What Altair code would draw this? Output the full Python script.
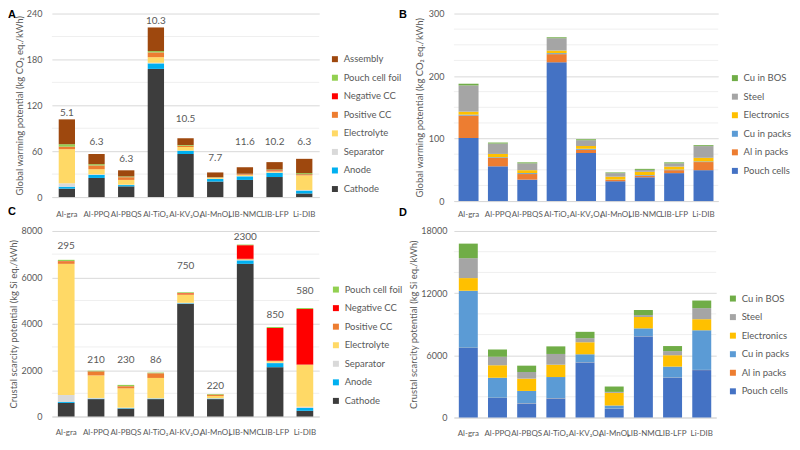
import altair as alt
import pandas as pd

cats = ["Al-gra", "Al-PPQ", "Al-PBQS", "Al-TiO₂", "Al-KV₂O₅", "Al-MnO₂", "LIB-NMC", "LIB-LFP", "Li-DIB"]

# ---- Panel A: cell-level global warming potential (kg CO2 eq./kWh)
gwp_cathode = [11, 25, 14, 167.6, 56.3, 20.3, 22.4, 26.2, 4.7]
gwp_anode = [2.5, 4, 1.7, 7.2, 4.2, 3.4, 4.7, 5.5, 3.8]
gwp_separator = [4.5, 0.8, 0.5, 0.8, 0.5, 0.3, 0.5, 0.5, 0.8]
gwp_electrolyte = [44.6, 6.6, 6.2, 7.3, 4.6, 1.0, 1.6, 1.2, 19.1]
gwp_pos_cc = [3, 4.6, 3.4, 5.9, 1.3, 0.6, 0.4, 1.2, 0.4]
gwp_neg_cc = [0.3, 0.3, 0.2, 0.3, 0.2, 0.2, 0.4, 0.6, 0.8]
gwp_foil = [3.2, 1.7, 1.0, 1.8, 1.0, 0.4, 0.5, 0.8, 1.7]
gwp_assembly = [32.5, 13.3, 8.0, 30.9, 8.9, 6.0, 8.5, 9.7, 18.7]
gwp_labels = ["5.1", "6.3", "6.3", "10.3", "10.5", "7.7", "11.6", "10.2", "6.3"]
gwp_label_at = [110, 71.5, 49.5, 229.8, 101.6, 51.2, 72.4, 72.4, 72.4]

# ---- Panel B: pack-level global warming potential
pk_pouch = [100.9, 55.6, 34.3, 222, 77, 31.7, 38, 44.7, 49.4]
pk_al = [35.9, 13.6, 8.9, 13, 5.2, 2.1, 2.6, 4.7, 13]
pk_cu = [1.5, 1.0, 1.5, 1.6, 1.5, 0.5, 1.0, 1.0, 1.0]
pk_elec = [4.7, 5.2, 4.7, 4.2, 4.2, 4.7, 5.2, 4.7, 5.8]
pk_steel = [42, 16.6, 10.9, 19.7, 9.3, 5.7, 3.1, 5.2, 18.7]
pk_cubos = [2.7, 1.6, 1.6, 1.5, 1.6, 1.1, 1.6, 1.6, 1.5]

# ---- Panel C: cell-level crustal scarcity potential (kg Si eq./kWh)
csp_cathode = [586, 750, 341, 750, 4865, 750, 6583, 2126, 245]
csp_anode = [40, 20, 20, 20, 20, 20, 150, 177, 123]
csp_separator = [300, 30, 21, 20, 20, 20, 20, 20, 54]
csp_electrolyte = [5657, 972, 831, 873, 342, 96, 20, 62, 1799]
csp_pos_cc = [109, 163, 82, 190, 68, 44, 27, 20, 20]
csp_neg_cc = [10, 10, 10, 10, 10, 10, 587, 1411, 2393]
csp_foil = [54, 31, 58, 31, 31, 28, 27, 41, 41]
csp_labels = ["295", "210", "230", "86", "750", "220", "2300", "850", "580"]
csp_label_at = [7373, 2440, 2440, 2440, 6474, 1336, 7727, 4361, 5397]

# ---- Panel D: pack-level crustal scarcity potential
cp_pouch = [6712, 1891, 1342, 1830, 5308, 854, 7810, 3844, 4576]
cp_al = [30, 20, 20, 20, 15, 10, 15, 15, 20]
cp_cu = [5492, 1933, 1201, 2055, 779, 295, 778, 1053, 3824]
cp_elec = [1220, 1190, 1189, 1190, 1159, 1221, 1098, 1098, 1068]
cp_steel = [1922, 824, 641, 1037, 397, 91, 183, 397, 1067]
cp_cubos = [1404, 701, 610, 732, 610, 519, 488, 488, 733]

cell_parts = ["Cathode", "Anode", "Separator", "Electrolyte", "Positive CC", "Negative CC", "Pouch cell foil", "Assembly"]
cell_colors = ["#3D3D3D", "#00B0F0", "#D9D9D9", "#FFD966", "#ED7D31", "#FF0000", "#92D050", "#9E480E"]
pack_parts = ["Pouch cells", "Al in packs", "Cu in packs", "Electronics", "Steel", "Cu in BOS"]
pack_colors = ["#4472C4", "#ED7D31", "#5B9BD5", "#FFC000", "#A5A5A5", "#70AD47"]

GRID = "#D9D9D9"
MINOR = "#EFEFEF"
TXT = "#595959"


def long_df(parts, series):
    rows = []
    for i, (p, s) in enumerate(zip(parts, series)):
        for c, v in zip(cats, s):
            rows.append({"cat": c, "part": p, "val": v, "ord": i})
    return pd.DataFrame(rows)


def letter(t, x, y):
    return alt.Chart(alt.Data(values=[{}])).mark_text(
        text=t, fontSize=11, fontWeight="bold", font="Liberation Sans",
        align="left", baseline="middle", color="black"
    ).encode(x=alt.value(x), y=alt.value(y))


def panel(df, parts, colors, ymax, major, minor, ytitle, W, H, pin, pout,
          lx, ly, tpad, lpad_x, lpad_y=10, labels=None, label_at=None, letters=()):
    xenc = alt.X("cat:N", sort=cats,
                 scale=alt.Scale(paddingInner=pin, paddingOuter=pout),
                 axis=alt.Axis(title=None, labelAngle=0, ticks=False, domainColor=GRID,
                               labelPadding=lpad_x, labelFontSize=8, labelColor=TXT))
    yscale = alt.Scale(domain=[0, ymax], nice=False, zero=True)
    yaxis = alt.Axis(title=ytitle, values=major, format="d", ticks=False, domain=False,
                     gridColor=GRID, labelPadding=lpad_y, titlePadding=tpad)
    rules = alt.Chart(pd.DataFrame({"val": minor})).mark_rule(
        color=MINOR, strokeWidth=1).encode(y=alt.Y("val:Q", scale=yscale, axis=yaxis))
    rev_parts = parts[::-1]
    rev_colors = colors[::-1]
    bars = alt.Chart(df).mark_bar().encode(
        x=xenc,
        y=alt.Y("val:Q", scale=yscale, axis=yaxis, stack="zero"),
        color=alt.Color("part:N",
                        scale=alt.Scale(domain=rev_parts, range=rev_colors),
                        legend=alt.Legend(title=None, orient="none", legendX=lx, legendY=ly,
                                          symbolType="square", symbolSize=36,
                                          symbolStrokeWidth=0, labelFontSize=9.5,
                                          labelColor=TXT, labelFont="Lato",
                                          rowPadding=7.6, labelOffset=4)),
        order=alt.Order("ord:Q", sort="ascending"),
    )
    layers = [rules, bars]
    if labels is not None:
        ldf = pd.DataFrame({"cat": cats, "lab": labels, "at": label_at})
        txt = alt.Chart(ldf).mark_text(fontSize=10, color=TXT, font="Lato", baseline="middle").encode(
            x=xenc, y=alt.Y("at:Q", scale=yscale, axis=yaxis), text="lab:N")
        layers.append(txt)
    for (t, x, y) in letters:
        layers.append(letter(t, x, y))
    return alt.layer(*layers).properties(width=W, height=H)


WA, HA = 268, 184
WB, HB = 265, 188
WC, HC = 268, 186
WD, HD = 263, 187

dfA = long_df(cell_parts, [gwp_cathode, gwp_anode, gwp_separator, gwp_electrolyte,
                           gwp_pos_cc, gwp_neg_cc, gwp_foil, gwp_assembly])
dfB = long_df(pack_parts, [pk_pouch, pk_al, pk_cu, pk_elec, pk_steel, pk_cubos])
dfC = long_df(cell_parts[:-1], [csp_cathode, csp_anode, csp_separator, csp_electrolyte,
                                csp_pos_cc, csp_neg_cc, csp_foil])
dfD = long_df(pack_parts, [cp_pouch, cp_al, cp_cu, cp_elec, cp_steel, cp_cubos])

A = panel(dfA, cell_parts, cell_colors, 240, [0, 60, 120, 180, 240], [30, 90, 150, 210],
          "Global warming potential (kg CO₂ eq./kWh)", WA, HA, 0.45, 0.23,
          WA + 11, 41, 2, 13, labels=gwp_labels, label_at=gwp_label_at,
          letters=[("A", -44, 1), ("C", -44, HA + 15)])
B = panel(dfB, pack_parts, pack_colors, 300, [0, 100, 200, 300],
          [25, 50, 75, 125, 150, 175, 225, 250, 275],
          "Global warming potential (kg CO₂ eq./kWh)", WB, HB, 0.32, 0.16,
          WB + 12, 60, 4, 9,
          letters=[("B", -55, 1), ("D", -55, HB + 12)])
C = panel(dfC, cell_parts[:-1], cell_colors[:-1], 8000, [0, 2000, 4000, 6000, 8000],
          [1000, 3000, 5000, 7000],
          "Crustal scarcity potential (kg Si eq./kWh)", WC, HC, 0.44, 0.2,
          WC + 12, 54, 3, 12, labels=csp_labels, label_at=csp_label_at)
D = panel(dfD, pack_parts, pack_colors, 18000, [0, 6000, 12000, 18000],
          [2000, 4000, 8000, 10000, 14000, 16000],
          "Crustal scarcity potential (kg Si eq./kWh)", WD, HD, 0.35, 0.17,
          WD + 12, 63, 2, 12, lpad_y=7)

chart = alt.concat(A, B, C, D, columns=2, spacing={"row": 30, "column": 135},
                   bounds="flush").resolve_scale(
    x="independent", y="independent", color="independent"
).properties(padding=0, background="white").configure_axis(
    labelFont="Lato", titleFont="Lato", labelColor=TXT, titleColor=TXT,
    titleFontWeight="normal", titleFontSize=9.5, labelFontSize=9
).configure_view(strokeWidth=0)

chart.save("out.html", embed_options={"renderer": "svg", "actions": False})
